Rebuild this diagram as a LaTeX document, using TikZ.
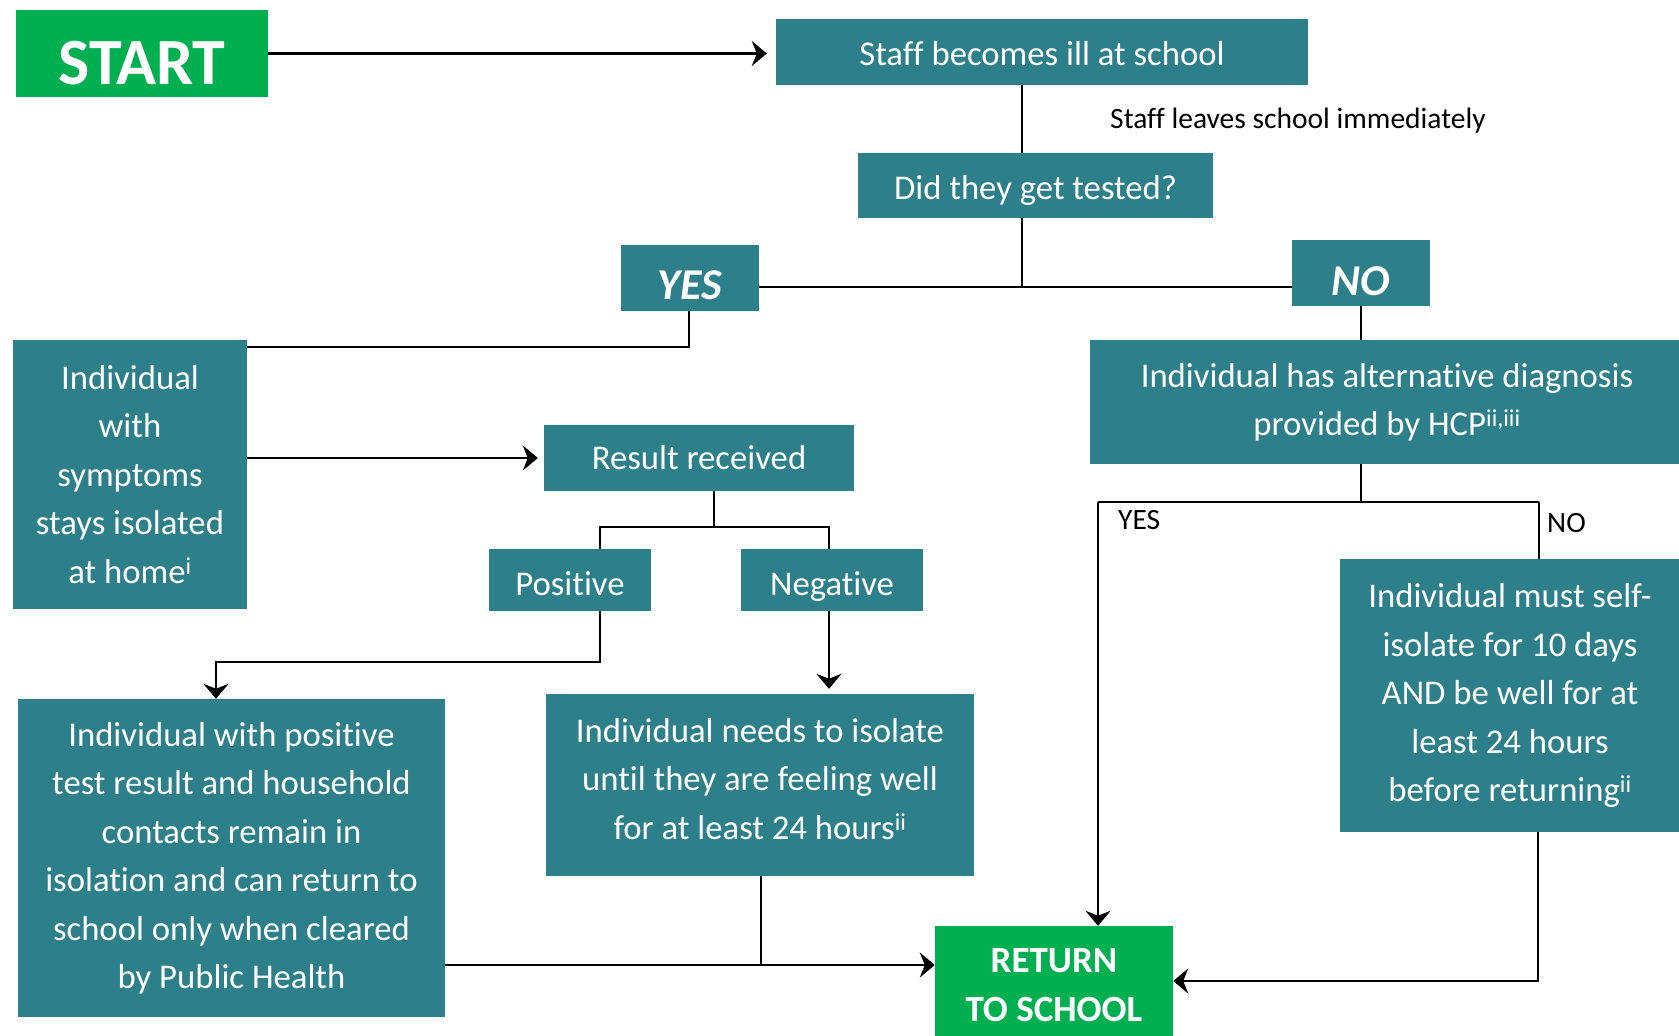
\documentclass[tikz,border=0pt]{standalone}
\usepackage{fontspec}
\setmainfont{Carlito}[Ligatures=NoCommon]
\usetikzlibrary{arrows.meta,calc}
\definecolor{tealbox}{RGB}{45,127,138}
\definecolor{greenbox}{RGB}{0,176,80}
\begin{document}
\begin{tikzpicture}[x=1pt,y=-1pt,
  box/.style={fill=tealbox,text=white,inner sep=0pt,align=center,font=\fontsize{34.7}{48.5}\selectfont},
  gbox/.style={fill=greenbox,text=white,inner sep=0pt,align=center},
  conn/.style={line width=2.5pt},
  arr/.style={line width=2.5pt,-{Stealth[length=15pt,width=25pt,inset=5pt]}},
  lbl/.style={font=\fontsize{29.5}{34}\selectfont,inner sep=0pt,anchor=base west}
]
\useasboundingbox (0,0) rectangle (1679,1036);

% boxes
\node[gbox,minimum width=252,minimum height=87,font=\fontsize{66}{70}\selectfont\bfseries,text height=61pt,text depth=0pt] (start) at (142,53.5) {START};
\node[box,minimum width=532,minimum height=66,text height=26pt,text depth=0pt] (staff) at (1042,52) {Staff becomes ill at school};
\node[box,minimum width=355,minimum height=65,text height=28pt,text depth=0pt] (did) at (1035.5,185.5) {Did they get tested?};
\node[box,minimum width=138,minimum height=66,font=\fontsize{44}{48}\selectfont\bfseries\itshape,text height=43pt,text depth=0pt] (yes) at (690,278) {YES};
\node[box,minimum width=138,minimum height=66,font=\fontsize{44}{48}\selectfont\bfseries\itshape,text height=45pt,text depth=0pt] (no) at (1361,273) {NO};
\node[box,minimum width=234,minimum height=269] (sym) at (130,474.5) {Individual\\with\\symptoms\\stays isolated\\at home\textsuperscript{i}};
\node[box,minimum width=310,minimum height=66,text height=23pt,text depth=0pt] (result) at (699,458) {Result received};
\node[box,minimum width=162,minimum height=62,text height=31pt,text depth=0pt] (pos) at (570,580) {Positive};
\node[box,minimum width=182,minimum height=62,text height=31pt,text depth=0pt] (neg) at (832,580) {Negative};
\node[box,minimum width=427,minimum height=318] (posbox) at (231.5,858) {Individual with positive\\test result and household\\contacts remain in\\isolation and can return to\\school only when cleared\\by Public Health};
\node[box,minimum width=428,minimum height=182] (negbox) at (760,785) {Individual needs to isolate\\until they are feeling well\\for at least 24 hours\textsuperscript{ii}\rule[-13pt]{0pt}{13pt}};
\node[gbox,minimum width=238,minimum height=118,font=\fontsize{37}{48.5}\selectfont\bfseries] (ret) at (1054,985) {RETURN\\TO SCHOOL};
\node[box,minimum width=594,minimum height=124] (alt) at (1387,402) {Individual has alternative diagnosis\\provided by HCP\textsuperscript{ii,iii}};
\node[box,minimum width=340,minimum height=273] (self) at (1510,695.5) {Individual must self-\\isolate for 10 days\\AND be well for at\\least 24 hours\\before returning\textsuperscript{ii}};

% labels
\node[lbl] (leave) at (1110,128) {Staff leaves school immediately};
\node[lbl] (ylab) at (1118,529) {YES};
\node[lbl] (nlab) at (1547,532) {NO};

% junction coordinates
\coordinate (j1) at (1022,287);
\coordinate (c2) at (689,347);
\coordinate (r1) at (714,527);
\coordinate (pl) at (600,527);
\coordinate (nl) at (829,527);
\coordinate (p1) at (600,662);
\coordinate (p2) at (216,662);
\coordinate (m) at (761,965);
\coordinate (a1) at (1361,502);
\coordinate (ay) at (1098,502);
\coordinate (an) at (1539,502);
\coordinate (s1) at (1538,981);

% connectors
\draw[arr,shorten >=9pt] (start.east) -- (start.east -| staff.west);
\draw[conn] (j1 |- staff.south) -- (j1 |- did.north);
\draw[conn] (j1 |- did.south) -- (j1);
\draw[conn] (j1 -| yes.east) -- (j1 -| no.west);
\draw[conn] (c2 |- yes.south) -- (c2) -- (c2 -| sym.east);
\draw[arr,shorten >=6pt] (result.west -| sym.east) -- (result.west);
\draw[conn] (r1 |- result.south) -- (r1);
\draw[conn] (pl |- pos.north) -- (pl) -- (nl) -- (nl |- neg.north);
\draw[arr] (pl |- pos.south) -- (p1) -- (p2) -- (p2 |- posbox.north);
\draw[arr,shorten >=5pt] (nl |- neg.south) -- (nl |- negbox.north);
\draw[conn] (m |- negbox.south) -- (m);
\draw[arr] (m -| posbox.east) -- (m -| ret.west);
\draw[conn] (no.south) -- (a1 |- alt.north);
\draw[conn] (a1 |- alt.south) -- (a1);
\draw[conn] (ay) -- (an);
\draw[arr] (ay) -- (ay |- ret.north);
\draw[conn] (an) -- (an |- self.north);
\draw[arr] (s1 |- self.south) -- (s1) -- (s1 -| ret.east);
\end{tikzpicture}
\end{document}
